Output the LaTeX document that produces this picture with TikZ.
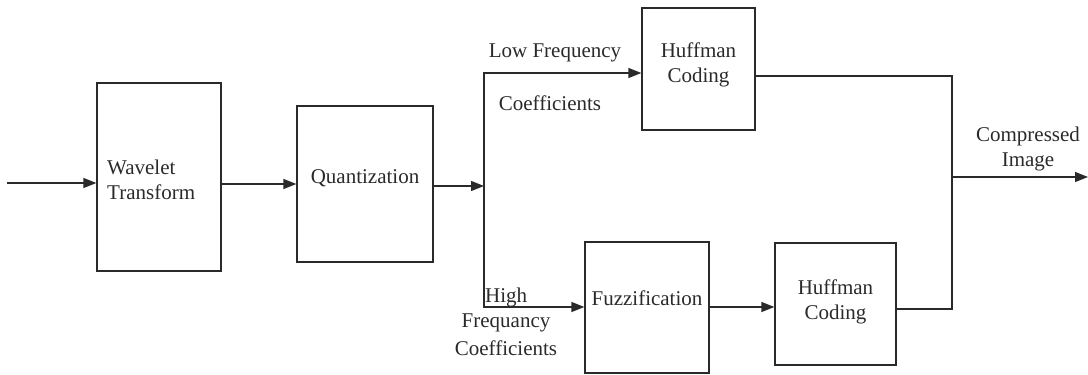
\documentclass[tikz,border=0pt]{standalone}
\usepackage{fontspec}
\setmainfont{Liberation Serif}
\usetikzlibrary{arrows.meta}
\definecolor{ink}{HTML}{2A2A2A}
\begin{document}
\begin{tikzpicture}[x=1pt,y=-1pt,
  font=\fontsize{21}{25}\selectfont,
  blk/.style={draw=ink,line width=1.2pt,rectangle,inner sep=0pt},
  lbl/.style={text=ink,inner sep=0pt,align=center},
  wire/.style={draw=ink,line width=1.2pt},
  flow/.style={wire,-{Triangle[length=13pt,width=10pt]}}]
\useasboundingbox (0,0) rectangle (1088,375);

% processing blocks
\node[blk,minimum width=124pt,minimum height=188pt] (wt) at (159,177) {};
\node[lbl,align=left,anchor=west] (wtt) at (107,180) {Wavelet\\Transform};
\node[blk,minimum width=136pt,minimum height=156pt] (qz) at (365,184) {};
\node[lbl] (qzt) at (365,178) {Quantization};
\node[blk,minimum width=113pt,minimum height=122pt] (hc1) at (698.5,69) {};
\node[lbl] (hc1t) at (698.5,65) {Huffman\\Coding};
\node[blk,minimum width=124pt,minimum height=131pt] (fz) at (647,307.5) {};
\node[lbl] (fzt) at (647,298) {Fuzzification};
\node[blk,minimum width=121pt,minimum height=122pt] (hc2) at (835.5,304) {};
\node[lbl] (hc2t) at (835.5,302) {Huffman\\Coding};

% junction points
\coordinate (src) at (7,183);
\coordinate (split) at (484,186);
\coordinate (ltop) at (484,73);
\coordinate (lbot) at (484,307);
\coordinate (mtop) at (952,76);
\coordinate (mbot) at (952,309);
\coordinate (mout) at (952,177);
\coordinate (dst) at (1088,177);

% connectors
\draw[flow] (src) -- (src -| wt.west);
\draw[flow] (wt.east |- 0,184) -- (qz.west |- 0,184);
\draw[flow] (qz.east |- split) -- (split);
\draw[flow] (split) -- (ltop) -- (ltop -| hc1.west);
\draw[flow] (split) -- (lbot) -- (lbot -| fz.west);
\draw[flow] (fz.east |- lbot) -- (hc2.west |- lbot);
\draw[wire] (hc1.east |- mtop) -- (mtop) -- (mbot) -- (hc2.east |- mbot);
\draw[flow] (mout) -- (dst);

% branch labels
\node[lbl] (lowf) at (555,53) {Low Frequency};
\node[lbl] (lowc) at (550,103) {Coefficients};
\node[lbl,anchor=west] (highw) at (485,297) {High};
\node[lbl] (highf) at (506,323) {Frequancy};
\node[lbl] (highc) at (506,348) {Coefficients};
\node[lbl] (outl) at (1028,149) {Compressed\\Image};
\end{tikzpicture}
\end{document}
